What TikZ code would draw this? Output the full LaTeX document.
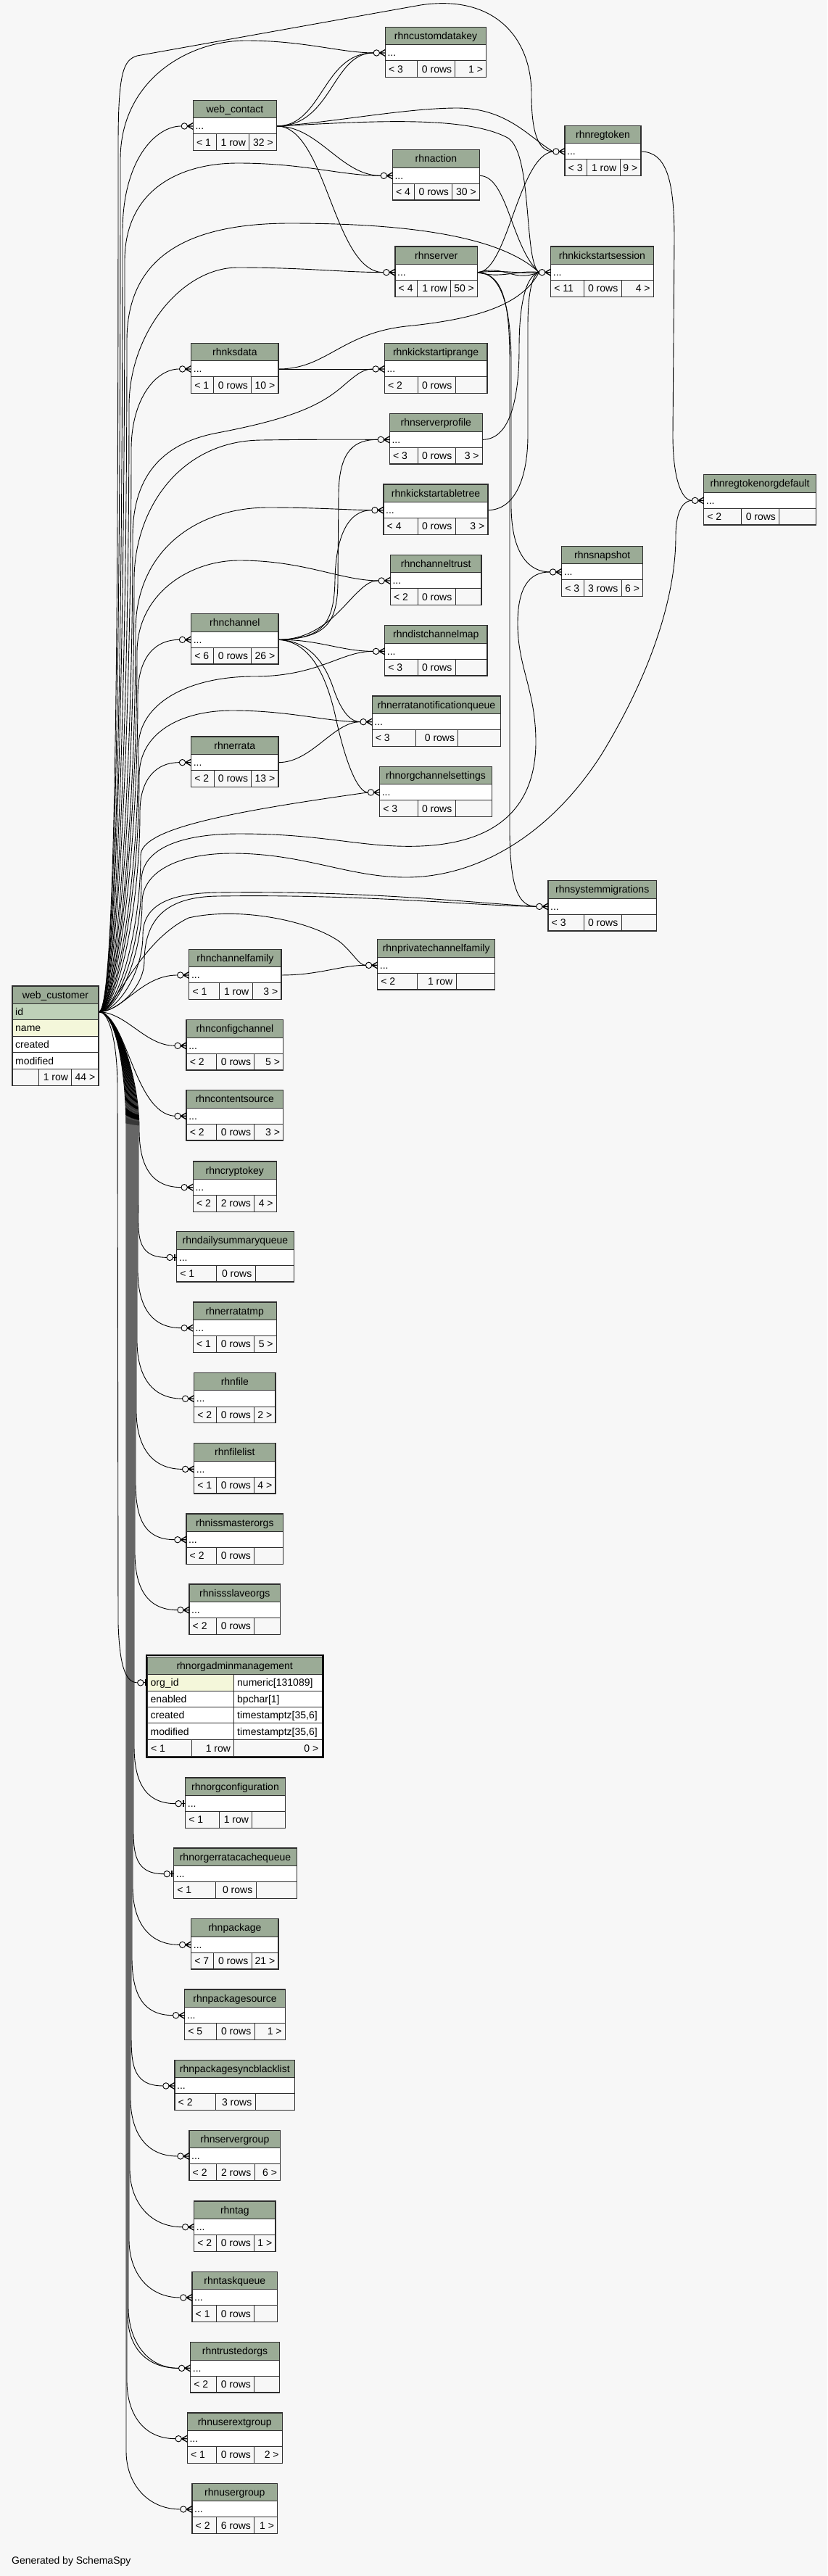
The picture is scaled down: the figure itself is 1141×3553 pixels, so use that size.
\documentclass[tikz,border=0pt]{standalone}
\usepackage{fontspec}
\setmainfont{Liberation Sans}
\pgfdeclarelayer{bgl}
\pgfdeclarelayer{edges}
\pgfsetlayers{bgl,edges,main}
\definecolor{bg}{HTML}{F7F7F7}
\definecolor{hdr}{HTML}{9BAB96}
\definecolor{pk}{HTML}{BED1B8}
\definecolor{idx}{HTML}{F4F7DA}
\definecolor{bord}{HTML}{2E2E2E}
\tikzset{
 edge/.style={draw=black, line width=0.9pt},
 cell/.style={draw=bord, line width=0.9pt},
 txt/.style={font=\fontsize{14}{16}\selectfont, inner sep=0pt, text height=11pt, text depth=1pt},
 crowline/.style={draw=black, line width=1.3pt},
}
\newcommand{\tbl}[9]{%
 \path[cell, fill=hdr] (#2,#3) rectangle (#4,{#3+24.3});
 \node[txt] (#1-h) at ({(#2+#4)/2},{#3+12.15}) {\detokenize{#1}};
 \path[cell, fill=white] (#2,{#3+24.3}) rectangle (#4,{#3+46.6});
 \node[inner sep=0pt, minimum height=22.3pt, minimum width={#4pt-#2pt}, anchor=north west] (#1) at (#2,{#3+24.3}) {};
 \node[txt, anchor=west] (#1-dots) at ({#2+3},{#3+35.45}) {...};
 \path[cell, fill=bg] (#2,{#3+46.6}) rectangle (#5,{#3+69.3});
 \path[cell, fill=bg] (#5,{#3+46.6}) rectangle (#6,{#3+69.3});
 \path[cell, fill=bg] (#6,{#3+46.6}) rectangle (#4,{#3+69.3});
 \node[txt, anchor=west] (#1-a) at ({#2+4.5},{#3+57.95}) {#7};
 \node[txt, anchor=east] (#1-b) at ({#6-4.5},{#3+57.95}) {#8};
 \node[txt, anchor=east] (#1-c) at ({#4-4.5},{#3+57.95}) {#9};
 \draw[bord, line width=1.3pt] (#2,#3) rectangle (#4,{#3+69.3});
}
\newcommand{\crowat}[1]{%
 \draw[edge, fill=bg] ([xshift=-12.1pt]#1.west) circle[radius=4.2pt];
 \draw[crowline] ([xshift=-8pt]#1.west) -- ([yshift=4.5pt]#1.west)
   ([xshift=-8pt]#1.west) -- (#1.west)
   ([xshift=-8pt]#1.west) -- ([yshift=-4.5pt]#1.west);
 \coordinate (#1-in) at ([xshift=-16.3pt]#1.west);
}
\newcommand{\teeat}[1]{%
 \draw[edge] ([xshift=-5.3pt]#1.west) -- (#1.west);
 \draw[edge, fill=bg] ([xshift=-9.5pt]#1.west) circle[radius=4.2pt];
 \draw[line width=2.5pt] ([xshift=-2.5pt,yshift=4.5pt]#1.west) -- ([xshift=-2.5pt,yshift=-4.5pt]#1.west);
 \coordinate (#1-in) at ([xshift=-13.7pt]#1.west);
}
% downward edge: lane x, target, target row y
\newcommand{\dn}[3]{\draw[edge] (wcid.east) .. controls +(25,0) and +(0,-70) .. (#1,1557) -- (#1,#3-80) .. controls +(0,45) and +(-45,0) .. (#2-in);}
\begin{document}
\begin{tikzpicture}[x=1pt,y=-1pt]
\begin{pgfonlayer}{bgl}
\fill[bg] (0,0) rectangle (1141,3553);
\end{pgfonlayer}
\useasboundingbox (0,0) rectangle (1141,3553);

% web_customer
\path[cell, fill=hdr] (17,1360) rectangle (136,1384);
\node[txt] (wc-h) at (76.5,1372) {web\_customer};
\path[cell, fill=pk] (17,1384) rectangle (136,1406.7);
\node[inner sep=0pt, minimum width=119pt, minimum height=22.7pt, anchor=north west] (wcid) at (17,1384) {};
\node[txt, anchor=west] (wc-id) at (21,1395.3) {id};
\path[cell, fill=idx] (17,1406.7) rectangle (136,1429);
\node[txt, anchor=west] (wc-name) at (21,1417.8) {name};
\path[cell, fill=white] (17,1429) rectangle (136,1451.7);
\node[txt, anchor=west] (wc-cr) at (21,1440.3) {created};
\path[cell, fill=white] (17,1451.7) rectangle (136,1474.3);
\node[txt, anchor=west] (wc-mod) at (21,1463) {modified};
\path[cell, fill=bg] (17,1474.3) rectangle (53.3,1497.3);
\path[cell, fill=bg] (53.3,1474.3) rectangle (98.7,1497.3);
\path[cell, fill=bg] (98.7,1474.3) rectangle (136,1497.3);
\node[txt, anchor=east] (wc-b) at (94.2,1485.8) {1 row};
\node[txt, anchor=east] (wc-c) at (131.5,1485.8) {44 >};
\draw[bord, line width=1.3pt] (17,1360) rectangle (136,1497.3);

% rhnorgadminmanagement
\path[cell, fill=hdr] (203.3,2285.3) rectangle (444,2309.3);
\node[txt] (oam-h) at (323.7,2297.3) {rhnorgadminmanagement};
\path[cell, fill=idx] (203.3,2309.3) rectangle (322.7,2332);
\path[cell, fill=white] (322.7,2309.3) rectangle (444,2332);
\node[inner sep=0pt, minimum width=119.4pt, minimum height=22.7pt, anchor=north west] (orgadm) at (203.3,2309.3) {};
\node[txt, anchor=west] (oam-r1a) at (207.5,2320.7) {org\_id};
\node[txt, anchor=west] (oam-r1b) at (327,2320.7) {numeric[131089]};
\path[cell, fill=white] (203.3,2332) rectangle (322.7,2354.7);
\path[cell, fill=white] (322.7,2332) rectangle (444,2354.7);
\node[txt, anchor=west] (oam-r2a) at (207.5,2343.3) {enabled};
\node[txt, anchor=west] (oam-r2b) at (327,2343.3) {bpchar[1]};
\path[cell, fill=white] (203.3,2354.7) rectangle (322.7,2376.7);
\path[cell, fill=white] (322.7,2354.7) rectangle (444,2376.7);
\node[txt, anchor=west] (oam-r3a) at (207.5,2365.7) {created};
\node[txt, anchor=west] (oam-r3b) at (327,2365.7) {timestamptz[35,6]};
\path[cell, fill=white] (203.3,2376.7) rectangle (322.7,2399.3);
\path[cell, fill=white] (322.7,2376.7) rectangle (444,2399.3);
\node[txt, anchor=west] (oam-r4a) at (207.5,2388) {modified};
\node[txt, anchor=west] (oam-r4b) at (327,2388) {timestamptz[35,6]};
\path[cell, fill=bg] (203.3,2399.3) rectangle (264,2422.7);
\path[cell, fill=bg] (264,2399.3) rectangle (322.7,2422.7);
\path[cell, fill=bg] (322.7,2399.3) rectangle (444,2422.7);
\node[txt, anchor=west] (oam-fa) at (207.8,2411) {< 1};
\node[txt, anchor=east] (oam-fb) at (318.2,2411) {1 row};
\node[txt, anchor=east] (oam-fc) at (439.5,2411) {0 >};
\draw[bord, line width=1pt] (203.3,2285.3) rectangle (444,2422.7);
\draw[black, line width=2.4pt] (202.2,2283.2) rectangle (445.5,2424.2);

\tbl{web_contact}{266.4}{138.3}{381.4}{298.6}{343.6}{< 1}{1 row}{32 >}
\tbl{rhncustomdatakey}{531.4}{37.3}{670.7}{575.7}{627.9}{< 3}{0 rows}{1 >}
\tbl{rhnaction}{541.4}{206.7}{661.4}{571.8}{623.6}{< 4}{0 rows}{30 >}
\tbl{rhnserver}{545}{340}{658.6}{575.7}{621.4}{< 4}{1 row}{50 >}
\tbl{rhnregtoken}{779}{173.3}{884}{809}{855}{< 3}{1 row}{9 >}
\tbl{rhnkickstartsession}{759.7}{340}{901.3}{805.3}{857}{< 11}{0 rows}{4 >}
\tbl{rhnksdata}{263.7}{473.3}{384}{294.7}{346.7}{< 1}{0 rows}{10 >}
\tbl{rhnkickstartiprange}{530.3}{473.3}{672}{576}{628}{< 2}{0 rows}{}
\tbl{rhnserverprofile}{537.3}{570.7}{665.3}{576}{628}{< 3}{0 rows}{3 >}
\tbl{rhnkickstartabletree}{529}{668}{673}{576}{628}{< 4}{0 rows}{3 >}
\tbl{rhnchanneltrust}{538.3}{765.3}{664}{576}{628}{< 2}{0 rows}{}
\tbl{rhnchannel}{263.6}{846.7}{384}{294.6}{346.8}{< 6}{0 rows}{26 >}
\tbl{rhndistchannelmap}{530.7}{862.7}{672}{576}{628}{< 3}{0 rows}{}
\tbl{rhnerratanotificationqueue}{513.2}{960}{690.7}{573.2}{631.8}{< 3}{0 rows}{}
\tbl{rhnerrata}{263.6}{1016}{384}{295}{346.8}{< 2}{0 rows}{13 >}
\tbl{rhnorgchannelsettings}{523.6}{1057.3}{678.6}{576}{628}{< 3}{0 rows}{}
\tbl{rhnregtokenorgdefault}{970.7}{654.7}{1125.3}{1022.7}{1074.7}{< 2}{0 rows}{}
\tbl{rhnsnapshot}{774.7}{753.3}{886.7}{805.3}{857}{< 3}{3 rows}{6 >}
\tbl{rhnsystemmigrations}{756}{1214.7}{905.4}{805.3}{857}{< 3}{0 rows}{}
\tbl{rhnprivatechannelfamily}{520.7}{1295.7}{682.7}{575.8}{629}{< 2}{1 row}{}
\tbl{rhnchannelfamily}{260.8}{1309.3}{388}{302.6}{348}{< 1}{1 row}{3 >}
\tbl{rhnconfigchannel}{257.1}{1406.7}{390.7}{298.4}{350.8}{< 2}{0 rows}{5 >}
\tbl{rhncontentsource}{257.1}{1503.7}{390.7}{298.4}{350.8}{< 2}{0 rows}{3 >}
\tbl{rhncryptokey}{266.3}{1602}{381.3}{298.7}{350.7}{< 2}{2 rows}{4 >}
\tbl{rhndailysummaryqueue}{243.7}{1698.7}{405.3}{298.7}{352}{< 1}{0 rows}{}
\tbl{rhnerratatmp}{266.3}{1796}{381.3}{298.7}{350.7}{< 1}{0 rows}{5 >}
\tbl{rhnfile}{267.7}{1893.5}{380}{298.7}{350.7}{< 2}{0 rows}{2 >}
\tbl{rhnfilelist}{267.7}{1990.7}{380}{298.7}{350.7}{< 1}{0 rows}{4 >}
\tbl{rhnissmasterorgs}{257}{2088}{390.7}{298.7}{350.7}{< 2}{0 rows}{}
\tbl{rhnissslaveorgs}{261}{2185}{386.7}{298.7}{350.7}{< 2}{0 rows}{}
\tbl{rhnorgconfiguration}{255.7}{2452}{393.3}{302.7}{347.7}{< 1}{1 row}{}
\tbl{rhnorgerratacachequeue}{239.7}{2549}{409.3}{297.3}{353}{< 1}{0 rows}{}
\tbl{rhnpackage}{263.7}{2646.7}{384}{294.7}{347}{< 7}{0 rows}{21 >}
\tbl{rhnpackagesource}{254.7}{2744}{393.3}{298.7}{351}{< 5}{0 rows}{1 >}
\tbl{rhnpackagesyncblacklist}{241}{2841.3}{406.7}{297.3}{352}{< 2}{3 rows}{}
\tbl{rhnservergroup}{261}{2938.3}{386.7}{298.7}{351}{< 2}{2 rows}{6 >}
\tbl{rhntag}{267.7}{3036}{380}{298.7}{350.7}{< 2}{0 rows}{1 >}
\tbl{rhntaskqueue}{265}{3133.3}{382.7}{298.7}{350.7}{< 1}{0 rows}{}
\tbl{rhntrustedorgs}{262.7}{3230.7}{385.3}{298.7}{350.7}{< 2}{0 rows}{}
\tbl{rhnuserextgroup}{258.3}{3328}{389.3}{298.7}{350.7}{< 1}{0 rows}{2 >}
\tbl{rhnusergroup}{265}{3425.3}{382.7}{298.7}{350.7}{< 2}{6 rows}{1 >}

\node[txt, anchor=west] (gen) at (16,3531) {Generated by SchemaSpy};

% end decorations
\crowat{web_contact}\crowat{rhncustomdatakey}\crowat{rhnaction}\crowat{rhnserver}
\crowat{rhnregtoken}\crowat{rhnkickstartsession}\crowat{rhnksdata}\crowat{rhnkickstartiprange}
\crowat{rhnserverprofile}\crowat{rhnkickstartabletree}\crowat{rhnchanneltrust}\crowat{rhnchannel}
\crowat{rhndistchannelmap}\crowat{rhnerratanotificationqueue}\crowat{rhnerrata}\crowat{rhnorgchannelsettings}
\crowat{rhnregtokenorgdefault}\crowat{rhnsnapshot}\crowat{rhnsystemmigrations}\crowat{rhnprivatechannelfamily}
\crowat{rhnchannelfamily}\crowat{rhnconfigchannel}\crowat{rhncontentsource}\crowat{rhncryptokey}
\teeat{rhndailysummaryqueue}\crowat{rhnerratatmp}\crowat{rhnfile}\crowat{rhnfilelist}
\crowat{rhnissmasterorgs}\crowat{rhnissslaveorgs}\teeat{orgadm}\teeat{rhnorgconfiguration}
\teeat{rhnorgerratacachequeue}\crowat{rhnpackage}\crowat{rhnpackagesource}\crowat{rhnpackagesyncblacklist}
\crowat{rhnservergroup}\crowat{rhntag}\crowat{rhntaskqueue}\crowat{rhntrustedorgs}
\crowat{rhnuserextgroup}\crowat{rhnusergroup}

\begin{pgfonlayer}{edges}
% upward edges from web_customer
\draw[edge] (wcid.east) .. controls +(25,0) and (163,797) .. (163,200) .. controls (163,100) and (170,83) .. (189,77) -- (580,7) .. controls (680,-8) and (733,50) .. (733,130) .. controls (733,190) and (745,208.8) .. (rhnregtoken-in);
\draw[edge] (wcid.east) .. controls +(25,0) and (166,807) .. (166,220) .. controls (166,110) and (260,56) .. (339,56) .. controls (420,56) and (470,72.8) .. (rhncustomdatakey-in);
\draw[edge] (wcid.east) .. controls +(25,0) and (169,857) .. (169,320) .. controls (169,220) and (215,173.8) .. (web_contact-in);
\draw[edge] (wcid.east) .. controls +(25,0) and (172,877) .. (172,360) .. controls (172,260) and (250,225) .. (328,225) .. controls (420,225) and (470,242.2) .. (rhnaction-in);
\draw[edge] (wcid.east) .. controls +(25,0) and (175,932) .. (175,470) .. controls (175,360) and (250,308) .. (400,308) .. controls (600,308) and (700,335) .. (rhnkickstartsession-in);
\draw[edge] (wcid.east) .. controls +(25,0) and (178,977) .. (178,560) .. controls (178,460) and (250,369) .. (328,369) .. controls (420,369) and (470,375.5) .. (rhnserver-in);
\draw[edge] (wcid.east) .. controls +(25,0) and (181,1007) .. (181,620) .. controls (181,550) and (215,508.8) .. (rhnksdata-in);
\draw[edge] (wcid.east) .. controls +(25,0) and (183,1067) .. (183,740) .. controls (183,660) and (220,612) .. (300,597) .. controls (400,578) and (440,560) .. (470,535) .. controls (490,518) and (500,508.8) .. (rhnkickstartiprange-in);
\draw[edge] (wcid.east) .. controls +(25,0) and (185,1097) .. (185,800) .. controls (185,700) and (250,608) .. (360,607) .. controls (430,606) and (480,606.2) .. (rhnserverprofile-in);
\draw[edge] (wcid.east) .. controls +(25,0) and (187,1132) .. (187,870) .. controls (187,760) and (270,700) .. (370,700) .. controls (440,700) and (480,703.5) .. (rhnkickstartabletree-in);
\draw[edge] (wcid.east) .. controls +(25,0) and (189,1147) .. (189,900) .. controls (189,820) and (260,773) .. (330,773) .. controls (420,773) and (470,800.8) .. (rhnchanneltrust-in);
\draw[edge] (wcid.east) .. controls +(25,0) and (190,1177) .. (190,960) .. controls (190,905) and (215,882.2) .. (rhnchannel-in);
\draw[edge] (wcid.east) .. controls +(25,0) and (191,1212) .. (191,1030) .. controls (191,970) and (260,933) .. (350,933) .. controls (440,933) and (470,898.2) .. (rhndistchannelmap-in);
\draw[edge] (wcid.east) .. controls +(25,0) and (192,1232) .. (192,1070) .. controls (192,1010) and (250,980) .. (320,980) .. controls (400,980) and (450,995.5) .. (rhnerratanotificationqueue-in);
\draw[edge] (wcid.east) .. controls +(25,0) and (193,1257) .. (193,1120) .. controls (193,1075) and (215,1051.5) .. (rhnerrata-in);
\draw[edge] (wcid.east) .. controls +(25,0) and (194,1287) .. (194,1180) .. controls (194,1145) and (300,1122) .. (rhnorgchannelsettings-in);
\draw[edge] (wcid.east) .. controls +(25,0) and (195,1305) .. (195,1215) .. controls (195,1170) and (250,1150) .. (330,1150) .. controls (450,1150) and (500,1170) .. (580,1167) .. controls (700,1162) and (740,1100) .. (739,1020) .. controls (738,950) and (714,920) .. (714,860) .. controls (714,810) and (730,788.8) .. (rhnsnapshot-in);
\draw[edge] (wcid.east) .. controls +(25,0) and (196,1320) .. (196,1245) .. controls (196,1200) and (250,1177) .. (320,1177) .. controls (420,1177) and (480,1210) .. (560,1210) .. controls (660,1210) and (760,1150) .. (830,1040) .. controls (900,925) and (932,820) .. (932,740) .. controls (932,700) and (945,690.2) .. (rhnregtokenorgdefault-in);
\draw[edge] (wcid.east) .. controls +(25,0) and (197,1342) .. (197,1290) .. controls (197,1250) and (230,1232) .. (300,1231) .. controls (500,1228) and (650,1245) .. (rhnsystemmigrations-in);
\draw[edge] (wcid.east) .. controls +(25,0) and (199,1362) .. (199,1325) .. controls (200,1262) and (235,1237) .. (300,1236) .. controls (500,1233) and (650,1249) .. (rhnsystemmigrations-in);
\draw[edge] (wcid.east) .. controls +(22,0) and (190,1300) .. (260,1266) .. controls (330,1250) and (430,1270) .. (470,1300) .. controls (490,1318) and (495,1331.2) .. (rhnprivatechannelfamily-in);
% near ones
\draw[edge] (wcid.east) .. controls (170,1395) and (195,1345) .. (rhnchannelfamily-in);
\draw[edge] (wcid.east) .. controls (175,1397) and (200,1442) .. (rhnconfigchannel-in);
\draw[edge] (wcid.east) .. controls (175,1400) and (185,1535) .. (rhncontentsource-in);
% downward edges from web_customer
\dn{192}{rhncryptokey}{1637.5}
\dn{191}{rhndailysummaryqueue}{1734.2}
\dn{190}{rhnerratatmp}{1831.5}
\dn{189}{rhnfile}{1929}
\dn{188}{rhnfilelist}{2026.2}
\dn{187}{rhnissmasterorgs}{2123.5}
\dn{186}{rhnissslaveorgs}{2220.5}
\dn{185}{rhnorgconfiguration}{2487.5}
\dn{184}{rhnorgerratacachequeue}{2584.5}
\dn{183}{rhnpackage}{2682.2}
\dn{182}{rhnpackagesource}{2779.5}
\dn{181}{rhnpackagesyncblacklist}{2876.8}
\dn{180}{rhnservergroup}{2973.8}
\dn{179}{rhntag}{3071.5}
\dn{178}{rhntaskqueue}{3168.8}
\dn{177}{rhntrustedorgs}{3262}
\dn{176}{rhntrustedorgs}{3272}
\dn{175}{rhnuserextgroup}{3363.5}
\dn{174}{rhnusergroup}{3460.8}
\draw[edge] (wcid.east) .. controls +(15,0) and +(0,-60) .. (162,1500) -- (163,2240) .. controls (165,2295) and (172,2320.7) .. (orgadm-in);
% other relationships
\draw[edge] (web_contact.east) .. controls (445,174) and (445,72.8) .. (rhncustomdatakey-in);
\draw[edge] (web_contact.east) .. controls (458,174) and (458,72.8) .. (rhncustomdatakey-in);
\draw[edge] (web_contact.east) .. controls (450,170) and (560,149) .. (630,149) .. controls (700,149) and (730,190) .. (rhnregtoken-in);
\draw[edge] (web_contact.east) .. controls (500,168) and (640,158) .. (700,190) .. controls (735,210) and (722,360) .. (rhnkickstartsession-in);
\draw[edge] (web_contact.east) .. controls (440,174) and (470,242.2) .. (rhnaction-in);
\draw[edge] (web_contact.east) .. controls (450,174) and (460,375.5) .. (rhnserver-in);
\draw[edge] (rhnaction.east) .. controls (700,243) and (705,340) .. (rhnkickstartsession-in);
\draw[edge] (rhnserver.east) .. controls (700,372) and (710,378) .. (rhnkickstartsession-in);
\draw[edge] (rhnserver.east) .. controls (690,385) and (715,372) .. (rhnkickstartsession-in);
\draw[edge] (rhnserver.east) .. controls (700,365) and (705,390) .. (rhnkickstartsession-in);
\draw[edge] (rhnserver.east) .. controls (700,375) and (715,215) .. (rhnregtoken-in);
\draw[edge] (rhnserver.east) .. controls (690,376) and (705,420) .. (705,500) -- (705,700) .. controls (706,765) and (730,788.8) .. (rhnsnapshot-in);
\draw[edge] (rhnserver.east) .. controls (695,378) and (703,420) .. (703,500) -- (703,1150) .. controls (704,1225) and (715,1250.2) .. (rhnsystemmigrations-in);
\draw[edge] (rhnksdata.east) -- (rhnkickstartiprange-in);
\draw[edge] (rhnksdata.east) .. controls (450,509) and (470,460) .. (560,450) .. controls (660,440) and (720,420) .. (rhnkickstartsession-in);
\draw[edge] (rhnserverprofile.east) .. controls (700,606) and (716,560) .. (716,480) .. controls (716,420) and (725,380) .. (rhnkickstartsession-in);
\draw[edge] (rhnkickstartabletree.east) .. controls (710,703) and (728,660) .. (728,600) -- (728,450) .. controls (728,400) and (735,378) .. (rhnkickstartsession-in);
\draw[edge] (rhnregtoken.east) .. controls (920,210) and (930,250) .. (930,330) -- (928,600) .. controls (928,660) and (940,690.2) .. (rhnregtokenorgdefault-in);
\draw[edge] (rhnchannel.east) .. controls (450,880) and (466,860) .. (466,800) -- (467,680) .. controls (468,620) and (490,606.2) .. (rhnserverprofile-in);
\draw[edge] (rhnchannel.east) .. controls (445,881) and (461,860) .. (462,800) .. controls (463,740) and (480,703.5) .. (rhnkickstartabletree-in);
\draw[edge] (rhnchannel.east) .. controls (440,882) and (470,840) .. (490,820) .. controls (505,805) and (512,800.8) .. (rhnchanneltrust-in);
\draw[edge] (rhnchannel.east) .. controls (440,882) and (470,898.2) .. (rhndistchannelmap-in);
\draw[edge] (rhnchannel.east) .. controls (420,884) and (445,905) .. (460,950) .. controls (472,985) and (485,995.5) .. (rhnerratanotificationqueue-in);
\draw[edge] (rhnchannel.east) .. controls (425,885) and (448,925) .. (462,985) .. controls (478,1060) and (495,1092.8) .. (rhnorgchannelsettings-in);
\draw[edge] (rhnerrata.east) .. controls (430,1051.5) and (460,995.5) .. (rhnerratanotificationqueue-in);
\draw[edge] (rhnchannelfamily.east) .. controls (440,1345) and (470,1331.2) .. (rhnprivatechannelfamily-in);
\end{pgfonlayer}
\end{tikzpicture}
\end{document}
